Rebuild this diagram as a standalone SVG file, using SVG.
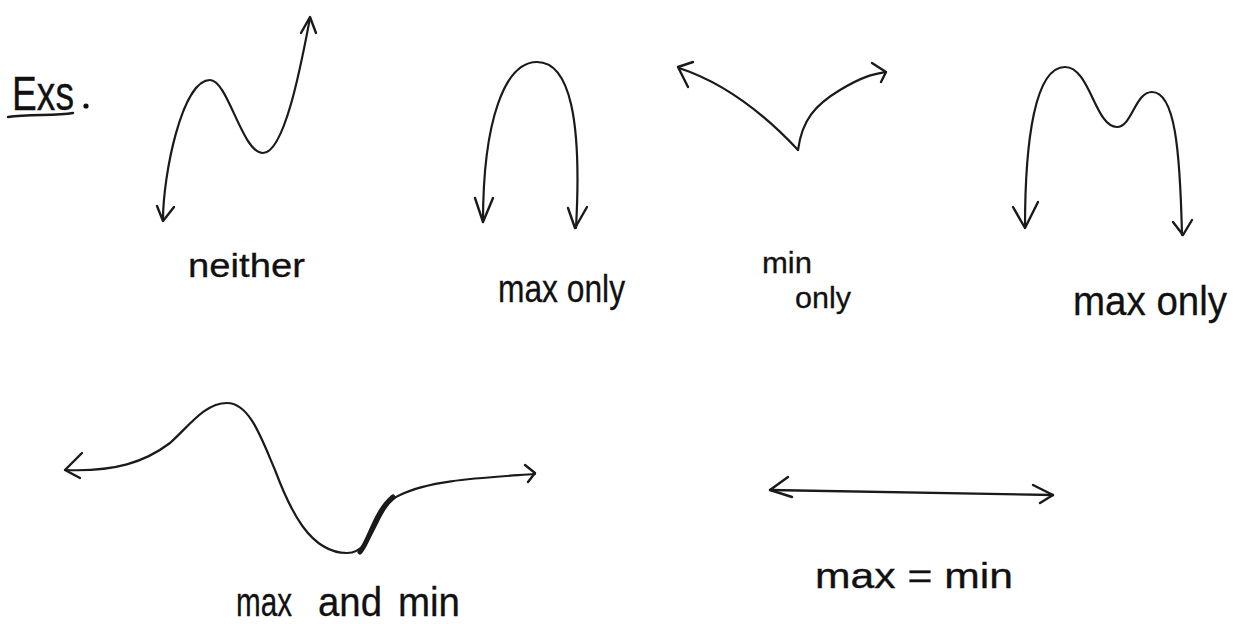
<svg xmlns="http://www.w3.org/2000/svg" width="1235" height="624" viewBox="0 0 1235 624">
<style>
.c{fill:none;stroke:#1a1a1a;stroke-width:2.2;stroke-linecap:round;stroke-linejoin:round}
.h{fill:none;stroke:#1a1a1a;stroke-width:2.4;stroke-linecap:round;stroke-linejoin:round}
.t{font-family:"Liberation Sans","DejaVu Sans",sans-serif;fill:#111;stroke:#111;stroke-width:0.3}
</style>
<rect width="1235" height="624" fill="#fff"/>
<g id="title">
<text class="t" x="12" y="110" font-size="48" textLength="62" lengthAdjust="spacingAndGlyphs">Exs</text>
<circle cx="86" cy="106" r="2.6" fill="#111"/>
<path class="h" d="M8,117 C30,114 55,116 73,113"/>
</g>
<g id="ex-neither">
<path class="c" d="M163,220 C163,175 182,80 210,80 C228,80 242,153 263,153 C285,153 302,60 310,18"/>
<path class="h" d="M157,206 L163,221 L174,207"/>
<path class="h" d="M301,33 L310,17 L316,33"/>
<text class="t" x="188" y="277" font-size="33" textLength="117" lengthAdjust="spacingAndGlyphs">neither</text>
</g>
<g id="ex-max-only-1">
<path class="c" d="M483,222 C483,120 505,62 537,62 C570,62 582,120 576,228"/>
<path class="h" d="M475,198 L483,222 L493,198"/>
<path class="h" d="M568,208 L575,228 L587,207"/>
<text class="t" x="498" y="302" font-size="38" textLength="127" lengthAdjust="spacingAndGlyphs">max only</text>
</g>
<g id="ex-min-only">
<path class="c" d="M679,68 Q740,88 798,150"/>
<path class="c" d="M798,150 C802,120 815,105 840,90 S875,74 886,72"/>
<path class="h" d="M693,62 L678,67 L688,87"/>
<path class="h" d="M872,63 L886,72 L881,82"/>
<text class="t" x="762" y="273" font-size="30" textLength="50" lengthAdjust="spacingAndGlyphs">min</text>
<text class="t" x="795" y="308" font-size="30" textLength="56" lengthAdjust="spacingAndGlyphs">only</text>
</g>
<g id="ex-max-only-2">
<path class="c" d="M1025,228 C1025,140 1035,67 1065,67 C1090,67 1095,127 1117,127 C1132,127 1135,92 1152,92 C1175,92 1180,150 1182,235"/>
<path class="h" d="M1013,207 L1025,228 L1038,202"/>
<path class="h" d="M1173,222 L1183,235 L1192,220"/>
<text class="t" x="1073" y="315" font-size="41" textLength="154" lengthAdjust="spacingAndGlyphs">max only</text>
</g>
<g id="ex-max-and-min">
<path class="c" d="M65,470 C115,472 145,462 170,443 C190,425 205,403 227,403 C250,403 262,440 275,470 C290,510 310,553 347,553 C375,553 375,505 400,495 C430,480 480,478 535,474"/>
<path d="M360,552 C370,540 375,512 393,497" fill="none" stroke="#1a1a1a" stroke-width="5" stroke-linecap="round"/>
<path class="h" d="M82,453 L65,470 L80,478"/>
<path class="h" d="M525,465 L535,473 L528,482"/>
<text class="t" x="236" y="616" font-size="40" textLength="56" lengthAdjust="spacingAndGlyphs">max</text>
<text class="t" x="318" y="616" font-size="40" textLength="64" lengthAdjust="spacingAndGlyphs">and</text>
<text class="t" x="398" y="616" font-size="40" textLength="62" lengthAdjust="spacingAndGlyphs">min</text>
</g>
<g id="ex-max-eq-min">
<path class="h" d="M770,490 C850,491 950,493 1053,495"/>
<path class="h" d="M788,477 L770,490 L792,497"/>
<path class="h" d="M1033,485 L1053,495 L1040,503"/>
<text class="t" x="815" y="588" font-size="35" textLength="198" lengthAdjust="spacingAndGlyphs">max = min</text>
</g>
</svg>
